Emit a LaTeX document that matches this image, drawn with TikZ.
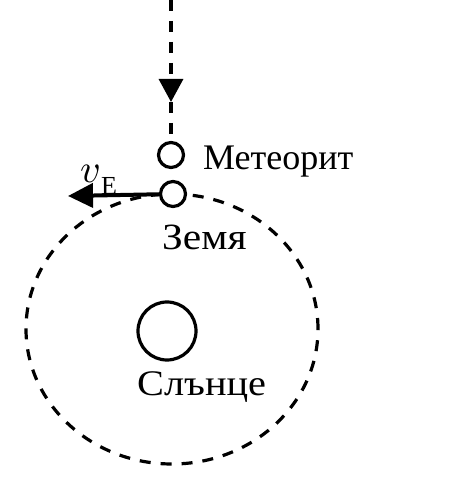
\documentclass[tikz,border=0pt]{standalone}
\usepackage{fontspec}
\setmainfont{Liberation Serif}
\newfontfamily\wideserif[FakeStretch=1.12]{Liberation Serif}
\usetikzlibrary{arrows.meta}
\tikzset{
  body/.style={circle,draw,line width=3.2pt,fill=white,inner sep=0pt},
  orbitline/.style={line width=3.2pt,dash pattern=on 11pt off 10pt},
  lbl/.style={anchor=base west,inner sep=0pt,font=\fontsize{37}{37}\selectfont},
  vel/.style={line width=4pt,-{Triangle[length=25pt,width=24pt]}},
  fallhead/.style={line width=3.2pt,dash pattern=on 11pt off 10pt,-{Triangle[length=23pt,width=24pt]}}
}
\begin{document}
\begin{tikzpicture}[x=1pt,y=1pt]
\useasboundingbox (0,0) rectangle (457,483);
% orbit
\draw[orbitline] (172,154) ellipse [x radius=146, y radius=135];
% sun
\node[body,minimum size=58pt] (sun) at (167,152) {};
\node[lbl,font=\fontsize{36}{36}\wideserif] (sunlbl) at (137,88) {Слънце};
% earth
\node[body,minimum size=25pt] (earth) at (173,289) {};
\node[lbl,font=\fontsize{37}{37}\wideserif] (earthlbl) at (162,233) {Земя};
% meteor
\node[body,minimum size=25pt] (meteor) at (171,328) {};
\node[lbl,font=\fontsize{36}{36}\selectfont] (meteorlbl) at (203,313) {Метеорит};
% falling path
\coordinate (top) at (171,483);
\coordinate (mid) at (171,381);
\draw[fallhead] (top) -- (mid);
\draw[orbitline] (mid) -- (meteor);
% velocity
\coordinate (vtip) at (68,287);
\draw[vel] (earth) -- (vtip);
\node[anchor=base west,inner sep=0pt] (vlbl) at (80,301) {\scalebox{4}{$v$}\raisebox{-13pt}{\fontsize{26}{26}\selectfont E}};
\end{tikzpicture}
\end{document}
